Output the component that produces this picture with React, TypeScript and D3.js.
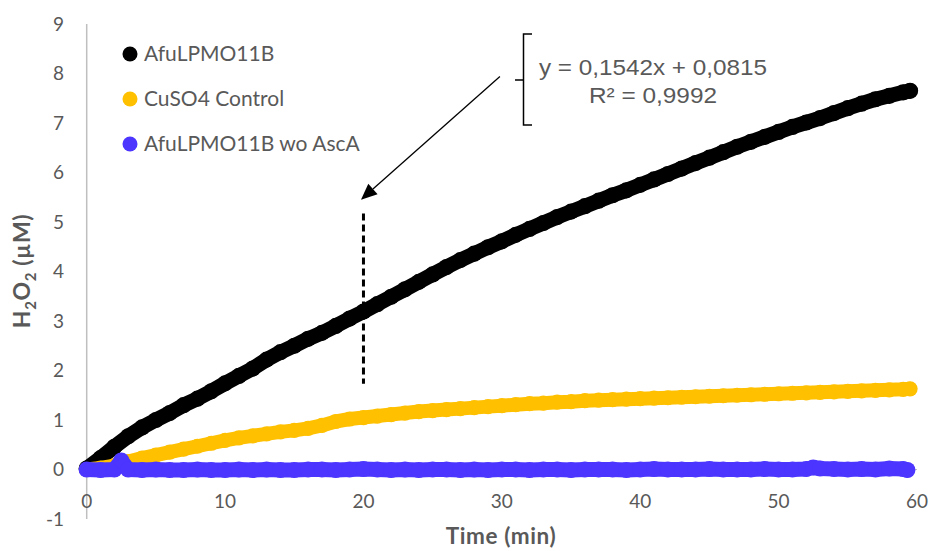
import React from 'react';
import * as d3 from 'd3';

// time (min)
const timeMin = [0, 1, 2, 3, 4, 5, 6, 7, 8, 9, 10, 11, 12, 13, 14, 15, 16, 17, 18, 19, 20, 21, 22, 23, 24, 25, 26, 27, 28, 29, 30, 31, 32, 33, 34, 35, 36, 37, 38, 39, 40, 41, 42, 43, 44, 45, 46, 47, 48, 49, 50, 51, 52, 53, 54, 55, 56, 57, 58, 59, 59.5];

// AfuLPMO11B (H2O2 µM)
const afuValues = [0.02, 0.23, 0.46, 0.67, 0.85, 1.0, 1.14, 1.3, 1.43, 1.58, 1.74, 1.89, 2.04, 2.22, 2.37, 2.5, 2.64, 2.76, 2.9, 3.05, 3.19, 3.34, 3.49, 3.64, 3.79, 3.94, 4.09, 4.23, 4.36, 4.49, 4.61, 4.74, 4.86, 4.98, 5.1, 5.21, 5.32, 5.43, 5.54, 5.64, 5.75, 5.86, 5.97, 6.08, 6.19, 6.3, 6.41, 6.52, 6.62, 6.72, 6.82, 6.92, 7.01, 7.1, 7.2, 7.3, 7.39, 7.48, 7.55, 7.62, 7.65];

// CuSO4 Control
const cuso4Values = [0.0, 0.03, 0.08, 0.16, 0.23, 0.29, 0.35, 0.41, 0.47, 0.53, 0.59, 0.64, 0.68, 0.72, 0.76, 0.79, 0.83, 0.89, 0.97, 1.02, 1.05, 1.08, 1.11, 1.14, 1.17, 1.19, 1.21, 1.23, 1.25, 1.27, 1.29, 1.31, 1.33, 1.34, 1.36, 1.37, 1.39, 1.4, 1.41, 1.42, 1.43, 1.44, 1.45, 1.46, 1.47, 1.48, 1.49, 1.5, 1.51, 1.52, 1.53, 1.54, 1.55, 1.56, 1.57, 1.58, 1.59, 1.6, 1.61, 1.62, 1.63];

// AfuLPMO11B wo AscA
const woAscTime = [0, 1, 2, 2.5, 3, 4, 5, 6, 7, 8, 9, 10, 11, 12, 13, 14, 15, 16, 17, 18, 19, 20, 21, 22, 23, 24, 25, 26, 27, 28, 29, 30, 31, 32, 33, 34, 35, 36, 37, 38, 39, 40, 41, 42, 43, 44, 45, 46, 47, 48, 49, 50, 51, 52, 52.5, 53, 54, 55, 56, 57, 58, 59, 59.3];
const woAscValues = [0.0, -0.01, 0.0, 0.18, 0.0, -0.01, 0.0, -0.01, -0.01, 0.0, -0.01, -0.01, 0.0, -0.01, 0.0, -0.01, -0.01, 0.0, 0.0, -0.01, 0.0, 0.01, 0.0, -0.01, 0.0, -0.01, 0.0, 0.0, -0.01, 0.0, -0.01, 0.0, 0.0, -0.01, 0.0, 0.0, -0.01, 0.0, 0.0, 0.0, -0.01, 0.0, 0.01, 0.0, 0.0, 0.0, 0.01, 0.0, 0.0, 0.0, 0.01, 0.0, 0.0, 0.01, 0.04, 0.02, 0.01, 0.0, 0.01, 0.0, 0.02, 0.01, -0.01];

const xTicks = [0, 10, 20, 30, 40, 50, 60];
const yTicks = [-1, 0, 1, 2, 3, 4, 5, 6, 7, 8, 9];
const seriesNames = ['AfuLPMO11B', 'CuSO4 Control', 'AfuLPMO11B wo AscA'];
const seriesColors = ['#000000', '#FFC000', '#4B35FF'];

const equationLines = ['y = 0,1542x + 0,0815', 'R² = 0,9992'];
const equationWidths = [228, 128];
// annotation anchors in data units
const dashedAt = { t: 20, from: 1.73, to: 5.17 };
const arrowFrom = { t: 29.86, v: 7.94 };
const arrowTo = { t: 19.82, v: 5.45 };

export default function App() {
  const W = 929, H = 551;
  const x = d3.scaleLinear().domain([0, 60]).range([86.7, 917]);
  const y = d3.scaleLinear().domain([-1, 9]).range([519, 24]);
  const line = d3.line<[number, number]>().x(d => x(d[0])).y(d => y(d[1]));

  const series = [
    { name: seriesNames[0], color: seriesColors[0], pts: timeMin.map((t, i) => [t, afuValues[i]] as [number, number]), w: 15 },
    { name: seriesNames[1], color: seriesColors[1], pts: timeMin.map((t, i) => [t, cuso4Values[i]] as [number, number]), w: 14 },
    { name: seriesNames[2], color: seriesColors[2], pts: woAscTime.map((t, i) => [t, woAscValues[i]] as [number, number]), w: 15 },
  ];

  const tickFont = 'Lato, Calibri, Carlito, sans-serif';
  const gray = '#595959';

  // arrow geometry
  const ax1 = x(arrowFrom.t), ay1 = y(arrowFrom.v);
  const ax2 = x(arrowTo.t), ay2 = y(arrowTo.v);
  const ang = Math.atan2(ay2 - ay1, ax2 - ax1);
  const headLen = 16, headW = 7;
  const bx = ax2 - headLen * Math.cos(ang), by = ay2 - headLen * Math.sin(ang);
  const head = `M${ax2},${ay2} L${bx + headW * Math.sin(ang)},${by - headW * Math.cos(ang)} L${bx - headW * Math.sin(ang)},${by + headW * Math.cos(ang)} Z`;

  return (
    <svg width={W} height={H} style={{ position: 'absolute', left: 0, top: 0, background: '#fff' }} xmlns="http://www.w3.org/2000/svg">
      <rect width={W} height={H} fill="#fff" />
      {/* axes */}
      <line x1={x(0)} x2={x(60)} y1={y(0)} y2={y(0)} stroke="#bfbfbf" strokeWidth={1.2} />
      <line x1={x(0)} x2={x(0)} y1={y(9)} y2={y(-1)} stroke="#bfbfbf" strokeWidth={1.5} />
      {yTicks.map(v => (
        <text key={'y' + v} x={64} y={y(v)} dy="0.35em" textAnchor="end" fontFamily={tickFont} fontSize={19} fill={gray}>{v}</text>
      ))}
      {xTicks.map(v => (
        <text key={'x' + v} x={x(v)} y={501} dy="0.35em" textAnchor="middle" fontFamily={tickFont} fontSize={19} fill={gray}>{v}</text>
      ))}
      {/* axis titles */}
      <text x={501} y={536} dy="0.35em" textAnchor="middle" fontFamily={tickFont} fontWeight="bold" fontSize={22.5} letterSpacing={0.6} fill={gray}>Time (min)</text>
      <text transform={`translate(30,271) rotate(-90)`} textAnchor="middle" fontFamily={tickFont} fontWeight="bold" fontSize={23} letterSpacing={0.6} fill={gray}>
        H<tspan fontSize={15} dy={6}>2</tspan><tspan dy={-6}>O</tspan><tspan fontSize={15} dy={6}>2</tspan><tspan dy={-6}> (µM)</tspan>
      </text>
      {/* series */}
      {series.map(s => (
        <g key={s.name}>
          <path d={line(s.pts) || ''} fill="none" stroke={s.color} strokeWidth={s.w} strokeLinecap="round" strokeLinejoin="round" />
          {s.pts.map((p, i) => (
            <circle key={i} cx={x(p[0])} cy={y(p[1])} r={s.w / 2 + 0.6} fill={s.color} />
          ))}
        </g>
      ))}
      {/* legend */}
      {seriesNames.map((n, i) => (
        <g key={n} transform={`translate(130,${54 + i * 45})`}>
          <circle r={7.5} fill={seriesColors[i]} />
          <text x={14} dy="0.35em" fontFamily={tickFont} fontSize={21} fill={gray}>{n}</text>
        </g>
      ))}
      {/* dashed marker at t=20 */}
      <line x1={x(dashedAt.t)} x2={x(dashedAt.t)} y1={y(dashedAt.to)} y2={y(dashedAt.from)} stroke="#000" strokeWidth={3} strokeDasharray="7 4" />
      {/* arrow */}
      <line x1={ax1} y1={ay1} x2={bx} y2={by} stroke="#000" strokeWidth={1.3} />
      <path d={head} fill="#000" />
      {/* bracket */}
      <path d="M532,34 L523.5,34 L523.5,125 L532,125 M523.5,80 L515,80" fill="none" stroke="#000" strokeWidth={1.5} />
      {/* equation */}
      {equationLines.map((l, i) => (
        <text key={i} x={653} y={75 + i * 27.5} textAnchor="middle" fontFamily="'Liberation Sans', Arial, sans-serif" fontSize={21.5} textLength={equationWidths[i]} lengthAdjust="spacingAndGlyphs" fill={gray}>{l}</text>
      ))}
    </svg>
  );
}
